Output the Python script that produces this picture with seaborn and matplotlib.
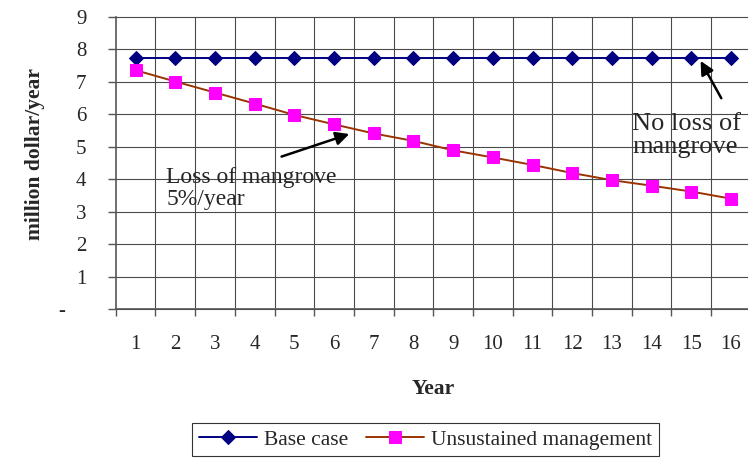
import numpy as np
import pandas as pd
import seaborn as sns
import matplotlib.pyplot as plt
from matplotlib.ticker import FixedLocator

years = list(range(1, 17))
base_case = [7.74] * 16
unsustained = [7.36, 7.01, 6.67, 6.33, 5.98, 5.69, 5.41, 5.18,
               4.89, 4.67, 4.44, 4.19, 3.97, 3.80, 3.62, 3.40]
ytick_values = list(range(0, 10))
ytick_labels = ["-    ", "1", "2", "3", "4", "5", "6", "7", "8", "9"]

df = pd.DataFrame({"Year": years, "Base case": base_case,
                   "Unsustained management": unsustained})

sns.set_style("white")
plt.rcParams["font.family"] = ["Liberation Serif", "DejaVu Serif"]

fig = plt.figure(figsize=(7.48, 4.65), dpi=100)
ax = fig.add_axes([0.1548, 0.3355, 0.849, 0.628])

grid_c = "#4a4a4a"
# horizontal grid + vertical lines on the category boundaries
for v in ytick_values:
    ax.axhline(v, color=grid_c, lw=0.8, zorder=0, clip_on=False)
for b in np.arange(1.5, 16.5, 1):
    ax.axvline(b, color=grid_c, lw=0.8, zorder=0)

sns.lineplot(data=df, x="Year", y="Base case", ax=ax, color="#000080",
             lw=1.4, marker="D", markersize=7, markerfacecolor="#000080",
             markeredgecolor="#000080", label="Base case")
sns.lineplot(data=df, x="Year", y="Unsustained management", ax=ax,
             color="#993300", lw=1.4, marker="s", markersize=8.5,
             markerfacecolor="#FF00FF", markeredgecolor="#FF00FF",
             label="Unsustained management")

ax.set_xlim(0.5, 16.5)
ax.set_ylim(0, 9)
ax.xaxis.set_major_locator(FixedLocator(years))
ax.xaxis.set_minor_locator(FixedLocator(np.arange(0.5, 17, 1)))
ax.yaxis.set_major_locator(FixedLocator(ytick_values))
ax.set_yticklabels(ytick_labels)
ax.tick_params(axis="x", which="major", length=0, labelsize=15, pad=19)
ax.tick_params(axis="x", which="minor", length=5, width=1, color="#555555",
               direction="out", bottom=True)
ax.tick_params(axis="y", length=6, width=1, color="#555555", direction="out",
               labelsize=15, pad=15, left=True)

for s in ["top", "right"]:
    ax.spines[s].set_visible(False)
for s in ["left", "bottom"]:
    ax.spines[s].set_color("#555555")
    ax.spines[s].set_linewidth(1.2)

ax.set_xlabel("Year", fontsize=15.5, fontweight="bold", labelpad=18)
ax.set_ylabel("million dollar/year", fontsize=15.5, fontweight="bold")
ax.yaxis.set_label_coords(-0.112, 0.53)

ax.annotate("", xy=(6.45, 5.42), xytext=(4.61, 4.67),
            arrowprops=dict(arrowstyle="-|>", color="black", lw=1.8,
                            mutation_scale=20))
ax.text(1.77, 4.38, "Loss of mangrove\n5%/year", fontsize=17,
        va="top", ha="left", linespacing=1.1)

ax.annotate("", xy=(15.2, 7.72), xytext=(15.79, 6.42),
            arrowprops=dict(arrowstyle="-|>", color="black", lw=1.8,
                            mutation_scale=20))
ax.text(13.51, 6.05, "No loss of\nmangrove", fontsize=19,
        va="top", ha="left", linespacing=1.05)

ax.legend(loc="lower center", bbox_to_anchor=(0.569, 0.019),
          bbox_transform=fig.transFigure, ncol=2, fontsize=15.5,
          frameon=True, fancybox=False, edgecolor="black",
          handlelength=2.7, columnspacing=0.8, handletextpad=0.35,
          borderpad=0.3, borderaxespad=0, numpoints=1)
ax.get_legend().get_frame().set_linewidth(0.8)

fig.savefig("out.png", dpi=100)
